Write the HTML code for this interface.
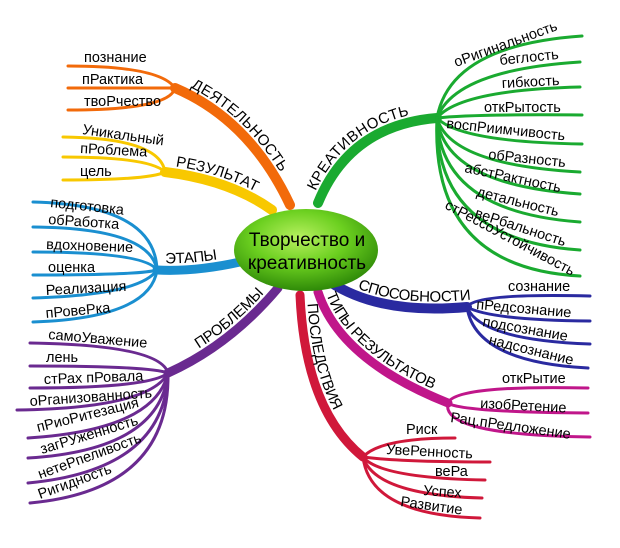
<!DOCTYPE html>
<html><head><meta charset="utf-8"><style>
html,body{margin:0;padding:0;background:#fff;}
svg{display:block;}
text{font-family:"Liberation Sans","DejaVu Sans",sans-serif;fill:#000;}
</style></head><body>
<svg width="620" height="548" viewBox="0 0 620 548" xmlns="http://www.w3.org/2000/svg">
<defs>
<radialGradient id="g" cx="45%" cy="35%" r="65%">
<stop offset="0" stop-color="#b8f060"/><stop offset="0.5" stop-color="#6cd020"/><stop offset="1" stop-color="#2f8a08"/>
</radialGradient>
<path id="pOr" d="M175 88 Q250 120 290 205"/>
<path id="pYe" d="M165 172 Q230 180 272 210"/>
<path id="pBl" d="M157 270 Q195 272 240 262"/>
<path id="pPu" d="M168 373 Q230 345 278 288"/>
<path id="pGr" d="M318 203 Q350 125 437 118"/>
<path id="pNa" d="M330 282 Q380 315 467 307"/>
<path id="pMa" d="M318 292 Q340 360 448 403"/>
<path id="pRe" d="M300 295 Q305 410 363 457"/>
</defs>
<g fill="none" stroke-linecap="round">
<g stroke="#f26a0a">
<use href="#pOr" stroke-width="10"/>
<path d="M175 88 Q160 66 68 66" stroke-width="3"/>
<path d="M175 88 Q120 88 68 88" stroke-width="3"/>
<path d="M175 88 Q170 110 68 110" stroke-width="3"/>
</g>
<g stroke="#f8c800">
<use href="#pYe" stroke-width="10"/>
<path d="M165 172 Q160 138 63 137" stroke-width="3"/>
<path d="M165 172 Q150 157 63 157" stroke-width="3"/>
<path d="M165 172 Q150 180 63 180" stroke-width="3"/>
</g>
<g stroke="#1a8fd0">
<use href="#pBl" stroke-width="9"/>
<path d="M157 270 Q155 205 33 202" stroke-width="3"/>
<path d="M157 270 Q150 228 33 227" stroke-width="3"/>
<path d="M157 270 Q145 252 33 252" stroke-width="3"/>
<path d="M157 270 Q140 275 33 275" stroke-width="3"/>
<path d="M157 270 Q140 295 33 298" stroke-width="3"/>
<path d="M157 270 Q150 318 33 322" stroke-width="3"/>
</g>
<g stroke="#6a2a90">
<use href="#pPu" stroke-width="9"/>
<path d="M168 373 Q160 345 30 343" stroke-width="3"/>
<path d="M168 373 Q150 366 30 366" stroke-width="3"/>
<path d="M168 373 Q150 388 30 388" stroke-width="3"/>
<path d="M168 373 Q150 408 17 410" stroke-width="3"/>
<path d="M168 373 Q155 430 28 438" stroke-width="3"/>
<path d="M168 373 Q160 450 28 458" stroke-width="3"/>
<path d="M168 373 Q165 470 28 483" stroke-width="3"/>
<path d="M168 373 Q170 490 30 503" stroke-width="3"/>
</g>
<g stroke="#1aaa30">
<use href="#pGr" stroke-width="10"/>
<path d="M437 118 Q450 45 582 36" stroke-width="3"/>
<path d="M437 118 Q455 70 580 62" stroke-width="3"/>
<path d="M437 118 Q460 90 580 87" stroke-width="3"/>
<path d="M437 118 Q470 114 582 115" stroke-width="3"/>
<path d="M437 118 Q460 142 582 144" stroke-width="3"/>
<path d="M437 118 Q450 165 580 172" stroke-width="3"/>
<path d="M437 118 Q445 185 580 194" stroke-width="3"/>
<path d="M437 118 Q440 212 580 222" stroke-width="3"/>
<path d="M437 118 Q435 240 580 250" stroke-width="3"/>
<path d="M437 118 Q430 268 580 276" stroke-width="3"/>
</g>
<g stroke="#2a2aa0">
<use href="#pNa" stroke-width="10"/>
<path d="M467 307 Q475 293 590 296" stroke-width="3"/>
<path d="M467 307 Q490 320 590 321" stroke-width="3"/>
<path d="M467 307 Q480 340 590 344" stroke-width="3"/>
<path d="M467 307 Q475 362 588 368" stroke-width="3"/>
</g>
<g stroke="#c0168a">
<use href="#pMa" stroke-width="9"/>
<path d="M448 403 Q455 385 588 388" stroke-width="3"/>
<path d="M448 403 Q460 412 588 413" stroke-width="3"/>
<path d="M448 403 Q440 435 590 437" stroke-width="3"/>
</g>
<g stroke="#d0183a">
<use href="#pRe" stroke-width="9"/>
<path d="M363 457 Q380 438 455 438" stroke-width="3"/>
<path d="M363 457 Q400 462 490 462" stroke-width="3"/>
<path d="M363 457 Q380 478 485 480" stroke-width="3"/>
<path d="M363 457 Q375 495 482 498" stroke-width="3"/>
<path d="M363 457 Q370 515 480 518" stroke-width="3"/>
</g>
</g>
<ellipse cx="306" cy="250" rx="72" ry="41" fill="url(#g)"/>
<text x="307" y="246" font-size="19" text-anchor="middle">Творчество и</text>
<text x="307" y="269" font-size="19" text-anchor="middle">креативность</text>

<g font-size="15">
<text dy="-7"><textPath href="#pOr" startOffset="8%">ДЕЯТЕЛЬНОСТЬ</textPath></text>
<text dy="-7"><textPath href="#pYe" startOffset="8%">РЕЗУЛЬТАТ</textPath></text>
<text dy="-7"><textPath href="#pBl" startOffset="10%">ЭТАПЫ</textPath></text>
<text dy="-7"><textPath href="#pPu" startOffset="28%">ПРОБЛЕМЫ</textPath></text>
<text dy="-7"><textPath href="#pGr" startOffset="6%">КРЕАТИВНОСТЬ</textPath></text>
<text dy="-7"><textPath href="#pNa" startOffset="20%">СПОСОБНОСТИ</textPath></text>
<text dy="-7"><textPath href="#pMa" startOffset="3%">ТИПЫ РЕЗУЛЬТАТОВ</textPath></text>
<text dy="-7"><textPath href="#pRe" startOffset="5%">ПОСЛЕДСТВИЯ</textPath></text>
</g>
<g font-size="14.5">
<text x="84" y="62">познание</text>
<text x="82" y="84">пРактика</text>
<text x="84" y="106">твоРчество</text>
<text x="82" y="134" transform="rotate(8 82 134)">Уникальный</text>
<text x="80" y="153" transform="rotate(3 80 153)">пРоблема</text>
<text x="80" y="176">цель</text>
<text x="50" y="207" transform="rotate(6 50 207)">подготовка</text>
<text x="48" y="224" transform="rotate(4 48 224)">обРаботка</text>
<text x="46" y="249" transform="rotate(2 46 249)">вдохновение</text>
<text x="48" y="272">оценка</text>
<text x="46" y="295" transform="rotate(-3 46 295)">Реализация</text>
<text x="46" y="318" transform="rotate(-5 46 318)">пРовеРка</text>
<text x="48" y="339" transform="rotate(5 48 339)">самоУважение</text>
<text x="46" y="362">лень</text>
<text x="44" y="384" transform="rotate(-2 44 384)">стРах  пРовала</text>
<text x="30" y="406" transform="rotate(-4 30 406)">оРганизованность</text>
<text x="38" y="432" transform="rotate(-14 38 432)">пРиоРитезация</text>
<text x="42" y="454" transform="rotate(-17 42 454)">загРУженность</text>
<text x="40" y="479" transform="rotate(-20 40 479)">нетеРпеливость</text>
<text x="40" y="499" transform="rotate(-20 40 499)">Ригидность</text>

<text x="456" y="67" transform="rotate(-20 456 67)">оРигинальность</text>
<text x="500" y="65" transform="rotate(-6 500 65)">беглость</text>
<text x="502" y="88" transform="rotate(-3 502 88)">гибкость</text>
<text x="484" y="112">откРытость</text>
<text x="446" y="128" transform="rotate(6 446 128)">воспРиимчивость</text>
<text x="488" y="159" transform="rotate(6 488 159)">обРазность</text>
<text x="464" y="172" transform="rotate(12 464 172)">абстРактность</text>
<text x="476" y="196" transform="rotate(14 476 196)">детальность</text>
<text x="474" y="217" transform="rotate(18 474 217)">веРбальность</text>
<text x="444" y="208" transform="rotate(28 444 208)">стРессоУстойчивость</text>

<text x="508" y="291">сознание</text>
<text x="476" y="309" transform="rotate(5 476 309)">пРедсознание</text>
<text x="482" y="326" transform="rotate(10 482 326)">подсознание</text>
<text x="488" y="344" transform="rotate(14 488 344)">надсознание</text>

<text x="502" y="383">откРытие</text>
<text x="480" y="408" transform="rotate(3 480 408)">изобРетение</text>
<text x="450" y="422" transform="rotate(8 450 422)">Рац.пРедложение</text>

<text x="406" y="434">Риск</text>
<text x="386" y="454" transform="rotate(3 386 454)">УвеРенность</text>
<text x="435" y="476">веРа</text>
<text x="423" y="495" transform="rotate(4 423 495)">Успех</text>
<text x="400" y="506" transform="rotate(8 400 506)">Развитие</text>
</g>
</svg>
</body></html>
